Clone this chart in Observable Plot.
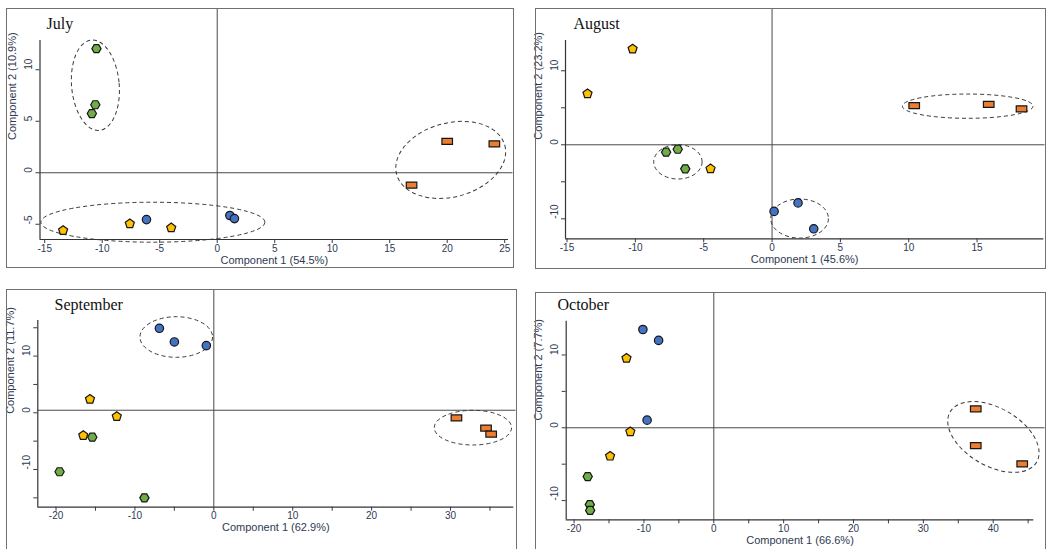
<!DOCTYPE html>
<html><head><meta charset="utf-8">
<script src="https://cdn.jsdelivr.net/npm/d3@7"></script>
<script src="https://cdn.jsdelivr.net/npm/@observablehq/plot@0.6"></script>
<style>
html,body{margin:0;padding:0;background:#fff}
body{width:1047px;height:549px;overflow:hidden;position:relative;font-family:"Liberation Sans",Arial,sans-serif}
.panel{position:absolute}
.panel svg{display:block;overflow:visible}
.border{position:absolute;border:1.5px solid #707070;box-sizing:border-box;pointer-events:none}
</style></head><body>
<script>
// ---------- data ----------
const months = ["July", "August", "September", "October"];
const xLabels = ["Component 1 (54.5%)", "Component 1 (45.6%)", "Component 1 (62.9%)", "Component 1 (66.6%)"];
const yLabels = ["Component 2 (10.9%)", "Component 2 (23.2%)", "Component 2 (11.7%)", "Component 2 (7.7%)"];

const julyScores = [
  ["pentagon", -13.4, -5.6], ["pentagon", -7.6, -4.95], ["pentagon", -4.0, -5.35],
  ["hexagon", -10.5, 12.05], ["hexagon", -10.6, 6.6], ["hexagon", -10.9, 5.75],
  ["circle", -6.15, -4.55], ["circle", 1.1, -4.15], ["circle", 1.5, -4.45],
  ["rectangle", 20.0, 3.05], ["rectangle", 24.1, 2.8], ["rectangle", 16.9, -1.2]
];
const augustScores = [
  ["pentagon", -10.2, 12.95], ["pentagon", -13.5, 6.9], ["pentagon", -4.5, -3.25],
  ["hexagon", -7.75, -1.0], ["hexagon", -6.9, -0.6], ["hexagon", -6.35, -3.25],
  ["circle", 0.15, -9.0], ["circle", 1.9, -7.85], ["circle", 3.05, -11.35],
  ["rectangle", 10.4, 5.3], ["rectangle", 15.85, 5.45], ["rectangle", 18.25, 4.85]
];
const septemberScores = [
  ["pentagon", -15.7, 2.4], ["pentagon", -12.3, -0.65], ["pentagon", -16.55, -4.0],
  ["hexagon", -15.4, -4.3], ["hexagon", -19.55, -10.4], ["hexagon", -8.8, -15.0],
  ["circle", -6.9, 14.9], ["circle", -5.0, 12.5], ["circle", -0.95, 11.85],
  ["rectangle", 30.75, -0.9], ["rectangle", 34.5, -2.7], ["rectangle", 35.15, -3.75]
];
const octoberScores = [
  ["pentagon", -12.5, 9.55], ["pentagon", -11.95, -0.55], ["pentagon", -14.85, -3.9],
  ["hexagon", -18.05, -6.7], ["hexagon", -17.75, -10.55], ["hexagon", -17.7, -11.35],
  ["circle", -10.15, 13.5], ["circle", -7.9, 12.0], ["circle", -9.55, 1.05],
  ["rectangle", 37.5, 2.6], ["rectangle", 37.5, -2.45], ["rectangle", 44.15, -4.95]
];

// dashed grouping ellipses: [centre x, centre y, radius x, radius y, tilt°]
const julyEllipses = [[-10.55, 8.45, 2.07, 4.4, -5], [-5.55, -4.85, 9.74, 1.94, 0], [20.35, 1.2, 4.87, 3.59, -15]];
const augustEllipses = [[14.35, 5.15, 4.78, 1.64, 0], [-6.85, -2.37, 1.77, 2.32, 0], [2.05, -10.03, 2.11, 2.64, 0]];
const septemberEllipses = [[-4.7, 13.28, 4.6, 3.58, 0], [32.9, -2.71, 4.9, 3.06, 0]];
const octoberEllipses = [[40.1, -1.33, 7.16, 3.98, 30]];

// tick values
const julyXTicks = [-15, -10, -5, 0, 5, 10, 15, 20, 25];
const julyXLabelled = [-15, -10, -5, 0, 5, 10, 15, 20, 25];
const julyYTicks = [-5, 0, 5, 10];
const julyYLabelled = [-5, 0, 5, 10];
const augustXTicks = [-15, -10, -5, 0, 5, 10, 15];
const augustXLabelled = [-15, -10, -5, 0, 5, 10, 15];
const augustYTicks = [-10, -5, 0, 5, 10];
const augustYLabelled = [-10, 0, 10];
const septemberXTicks = [-20, -15, -10, -5, 0, 5, 10, 15, 20, 25, 30, 35];
const septemberXLabelled = [-20, -10, 0, 10, 20, 30];
const septemberYTicks = [-15, -10, -5, 0, 5, 10, 15];
const septemberYLabelled = [-10, 0, 10];
const octoberXTicks = [-20, -15, -10, -5, 0, 5, 10, 15, 20, 25, 30, 35, 40, 45];
const octoberXLabelled = [-20, -10, 0, 10, 20, 30, 40];
const octoberYTicks = [-10, -5, 0, 5, 10];
const octoberYLabelled = [-10, 0, 10];

// reference lines (origin cross)
const originX = [0, 0, 0, 0];
const originY = [0, 0, 0.45, 0];

// ---------- styling ----------
const groupColors = {pentagon: "#ffc000", hexagon: "#70ad47", circle: "#4472c4", rectangle: "#ed7d31"};
const textColor = "#2f3a52";

const pentagon = {draw(ctx, size) {
  const r = Math.sqrt(size / Math.PI) * 1.08;
  for (let k = 0; k < 5; k++) {
    const a = -Math.PI / 2 + k * 2 * Math.PI / 5;
    k ? ctx.lineTo(r * Math.cos(a), r * Math.sin(a)) : ctx.moveTo(r * Math.cos(a), r * Math.sin(a));
  }
  ctx.closePath();
}};
const hexagon = {draw(ctx, size) {
  const r = Math.sqrt(size / Math.PI) * 1.05;
  for (let k = 0; k < 6; k++) {
    const a = k * Math.PI / 3;
    k ? ctx.lineTo(r * Math.cos(a), r * Math.sin(a)) : ctx.moveTo(r * Math.cos(a), r * Math.sin(a));
  }
  ctx.closePath();
}};
const rectangle = {draw(ctx, size) {
  const r = Math.sqrt(size / Math.PI);
  ctx.rect(-1.2 * r, -0.68 * r, 2.4 * r, 1.36 * r);
}};
const symbols = {pentagon, hexagon, circle: "circle", rectangle};

const panels = [
  {title: months[0], xLabel: xLabels[0], yLabel: yLabels[0], scores: julyScores, ellipses: julyEllipses,
   xTicks: julyXTicks, xLab: julyXLabelled, yTicks: julyYTicks, yLab: julyYLabelled, ox: originX[0], oy: originY[0],
   box: [6, 8, 508, 260], margin: [32, 6, 29, 33.5], xDomain: [-15.41, 25.33], yDomain: [-6.48, 12.84], titleD: [6.5, -12]},
  {title: months[1], xLabel: xLabels[1], yLabel: yLabels[1], scores: augustScores, ellipses: augustEllipses,
   xTicks: augustXTicks, xLab: augustXLabelled, yTicks: augustYTicks, yLab: augustYLabelled, ox: originX[1], oy: originY[1],
   box: [535, 8, 511, 261], margin: [32, 2.7, 30.7, 30], xDomain: [-15.11, 19.88], yDomain: [-12.7, 14.09], titleD: [8, -12]},
  {title: months[2], xLabel: xLabels[2], yLabel: yLabels[2], scores: septemberScores, ellipses: septemberEllipses,
   xTicks: septemberXTicks, xLab: septemberXLabelled, yTicks: septemberYTicks, yLab: septemberYLabelled, ox: originX[2], oy: originY[2],
   box: [6, 289, 511, 280], margin: [31, 3.7, 62.3, 31.3], xDomain: [-22.31, 38.02], yDomain: [-16.65, 16.28], titleD: [16.7, -11]},
  {title: months[3], xLabel: xLabels[3], yLabel: yLabels[3], scores: octoberScores, ellipses: octoberEllipses,
   xTicks: octoberXTicks, xLab: octoberXLabelled, yTicks: octoberYTicks, yLab: octoberYLabelled, ox: originX[3], oy: originY[3],
   box: [535, 292, 511, 280], margin: [28.7, 12.7, 52.7, 30.7], xDomain: [-21.13, 45.81], yDomain: [-12.64, 14.64], titleD: [-8.7, -11.5]}
];

function ellipseMark(list) {
  return (index, scales) => {
    const g = d3.create("svg:g").attr("fill", "none").attr("stroke", "#3a3a3a")
      .attr("stroke-width", 1).attr("stroke-dasharray", "4,3");
    for (const [cx, cy, rx, ry, tilt] of list) {
      const px = scales.x(cx), py = scales.y(cy);
      const prx = Math.abs(scales.x(cx + rx) - px), pry = Math.abs(scales.y(cy + ry) - py);
      g.append("ellipse").attr("cx", px).attr("cy", py).attr("rx", prx).attr("ry", pry)
        .attr("transform", `rotate(${tilt} ${px} ${py})`);
    }
    return g.node();
  };
}

for (const p of panels) {
  const [left, top, width, height] = p.box;
  const [mt, mr, mb, ml] = p.margin;
  const rows = p.scores.map(([group, x, y]) => ({group, x, y}));
  const dotMarks = Object.keys(symbols).map(g => Plot.dot(rows.filter(d => d.group === g), {
    x: "x", y: "y", r: g === "circle" ? 4.2 : 4.4, symbol: symbols[g],
    fill: groupColors[g], stroke: "#161616", strokeWidth: 1.2
  }));
  const chart = Plot.plot({
    width, height, marginTop: mt, marginRight: mr, marginBottom: mb, marginLeft: ml,
    x: {domain: p.xDomain, axis: null},
    y: {domain: p.yDomain, axis: null},
    style: {fontFamily: '"Liberation Sans", Arial, sans-serif', background: "transparent", overflow: "visible"},
    marks: [
      // origin cross
      Plot.ruleY([p.oy], {stroke: "#4a4a4a", strokeWidth: 1, insetRight: -(mr - 1.5)}),
      Plot.ruleX([p.ox], {stroke: "#4a4a4a", strokeWidth: 1, insetTop: -(mt - 1)}),
      // axis lines
      Plot.ruleX([p.xDomain[0]], {stroke: "#333", strokeWidth: 1.2}),
      Plot.ruleY([p.yDomain[0]], {stroke: "#333", strokeWidth: 1.2}),
      // ticks
      Plot.axisX({ticks: p.xTicks, tickSize: 4, tickPadding: 1, fontSize: 10, color: textColor, label: null,
        tickFormat: d => p.xLab.includes(d) ? String(d) : ""}),
      Plot.axisY({ticks: p.yTicks, tickSize: 4, color: textColor, label: null, tickFormat: () => ""}),
      Plot.text(p.yLab, {y: d => d, text: d => String(d), frameAnchor: "left", dx: -11, rotate: -90,
        fontSize: 10, fill: textColor}),
      // axis titles
      Plot.text([p.xLabel], {text: d => d, frameAnchor: "bottom", dy: 24, fontSize: 11, fill: textColor}),
      Plot.text([p.yLabel], {text: d => d, frameAnchor: "left", dx: -27.5, rotate: -90, fontSize: 11, fill: textColor}),
      // month title
      Plot.text([p.title], {text: d => d, frameAnchor: "top-left", textAnchor: "start", lineAnchor: "bottom",
        dx: p.titleD[0], dy: p.titleD[1], fontSize: 16, fill: "#111",
        fontFamily: '"Liberation Serif", "Times New Roman", serif'}),
      ellipseMark(p.ellipses),
      ...dotMarks
    ]
  });
  const wrap = document.createElement("div");
  wrap.className = "panel";
  wrap.style.left = left + "px"; wrap.style.top = top + "px";
  wrap.appendChild(chart);
  document.body.appendChild(wrap);
  const border = document.createElement("div");
  border.className = "border";
  border.style.left = left + "px"; border.style.top = top + "px";
  border.style.width = width + "px"; border.style.height = height + "px";
  document.body.appendChild(border);
}
</script>
</body></html>
